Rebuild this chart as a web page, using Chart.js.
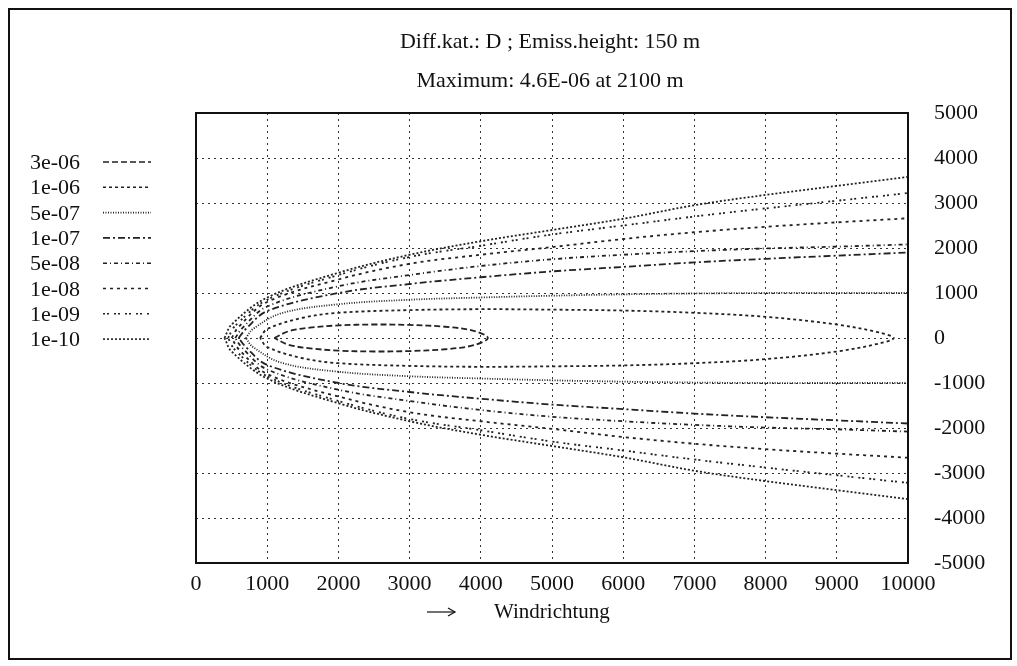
<!DOCTYPE html>
<html><head><meta charset="utf-8">
<script src="https://cdn.jsdelivr.net/npm/chart.js@4"></script>
<style>
body{margin:0;background:#fff}
#wrap{position:absolute;left:0;top:0;width:1017px;height:666px}
#frame{position:absolute;left:8px;top:8px;width:1000px;height:648px;border:2px solid #111}
</style></head>
<body>
<div id="wrap"><div id="frame"></div><canvas id="c" width="1017" height="666"></canvas></div>
<script>
// isoline labels (concentration levels)
const levels = ["3e-06","1e-06","5e-07","1e-07","5e-08","1e-08","1e-09","1e-10"]
const dashes = [[6,3],[3,3],[1,1.5],[7,3,2,3],[4,3,1,3],[3,4],[2,2,2,5],[2,2]]
// distance downwind (m) and plume half width (m) for each level
const xs = [
  [1100,1300,1600,2000,2500,3000,3500,3900,4100],
  [900,1000,1500,2000,3000,4000,5000,6000,7000,8000,9000,9600,9800],
  [700,800,1200,2000,3000,4000,5000,6000,7000,8000,9000,10000],
  [600,700,1000,2000,3000,4000,5000,6000,7000,8000,9000,10000],
  [550,650,1000,2000,3000,4000,5000,6000,7000,8000,9000,10000],
  [500,600,1000,2000,3000,4000,5000,6000,7000,8000,9000,10000],
  [450,550,1000,2000,3000,4000,5000,6000,7000,8000,9000,10000],
  [400,500,1000,2000,3000,4000,5000,6000,7000,8000,9000,10000]
]
const halfWidth = [
  [0,150,230,280,300,290,250,160,0],
  [0,200,450,560,620,640,630,610,560,470,300,120,0],
  [0,200,550,750,850,900,940,970,990,1000,1000,1000],
  [0,200,600,1000,1200,1350,1480,1580,1680,1760,1830,1900],
  [0,220,700,1150,1400,1600,1750,1850,1930,1990,2030,2080],
  [0,250,800,1300,1650,1850,2020,2200,2350,2470,2570,2660],
  [0,270,850,1400,1800,2050,2300,2500,2700,2880,3050,3220],
  [0,300,900,1450,1850,2150,2400,2650,2950,3180,3380,3580]
]
const xTicks = [0,1000,2000,3000,4000,5000,6000,7000,8000,9000,10000]
const yTicks = [-5000,-4000,-3000,-2000,-1000,0,1000,2000,3000,4000,5000]
const titleLines = ["Diff.kat.: D ; Emiss.height: 150 m","Maximum: 4.6E-06 at 2100 m"]

const font = "Liberation Serif, DejaVu Serif, serif"
const datasets = levels.map((lv, i) => {
  const up = xs[i].map((x, k) => ({x: x, y: halfWidth[i][k]}))
  const down = xs[i].map((x, k) => ({x: x, y: -halfWidth[i][k]})).reverse()
  const pts = xs[i][xs[i].length-1] < 10000 ? up.concat(down.slice(1)) : up.concat([{x: NaN, y: NaN}], down)
  return {label: lv, data: pts, showLine: true, pointRadius: 0, borderColor: "#222",
    borderWidth: 1.8, borderDash: dashes[i], tension: 0.35, spanGaps: false}
})

const deco = {
  id: "deco",
  afterDraw(chart) {
    const ctx = chart.ctx, a = chart.chartArea
    ctx.save()
    ctx.fillStyle = "#111"
    ctx.font = "22px " + font
    ctx.textAlign = "center"
    ctx.fillText(titleLines[0], 550, 48)
    ctx.fillText(titleLines[1], 550, 87)
    ctx.font = "22px " + font
    ctx.textAlign = "left"
    levels.forEach((lv, i) => {
      const y = 162 + i * 25.3
      ctx.fillText(lv, 30, y + 7)
      ctx.beginPath(); ctx.setLineDash(dashes[i]); ctx.lineWidth = 1.6; ctx.strokeStyle = "#222"
      ctx.moveTo(103, y); ctx.lineTo(151, y); ctx.stroke()
    })
    ctx.setLineDash([])
    ctx.lineWidth = 2; ctx.strokeStyle = "#111"
    ctx.strokeRect(a.left, a.top, a.right - a.left, a.bottom - a.top)
    ctx.beginPath(); ctx.lineWidth = 1.2
    ctx.moveTo(427, 612); ctx.lineTo(455, 612); ctx.stroke()
    ctx.beginPath(); ctx.moveTo(448, 608); ctx.lineTo(455, 612); ctx.lineTo(448, 616); ctx.stroke()
    ctx.font = "21px " + font
    ctx.fillText("Windrichtung", 494, 618)
    ctx.restore()
  }
}

new Chart(document.getElementById("c"), {
  type: "scatter",
  data: {datasets: datasets},
  options: {
    responsive: false, animation: false,
    layout: {padding: {left: 196, top: 113, right: 20, bottom: 70}},
    plugins: {legend: {display: false}, tooltip: {enabled: false}},
    scales: {
      x: {type: "linear", min: 0, max: 10000,
        afterBuildTicks: s => { s.ticks = xTicks.map(v => ({value: v})) },
        afterFit: s => { s.height = 33 },
        grid: {color: "#333", lineWidth: 1, drawTicks: false},
        border: {display: false, dash: [2,4]},
        ticks: {color: "#111", padding: 8, font: {family: font, size: 22}, maxRotation: 0,
          callback: v => String(v)}},
      y: {type: "linear", position: "right", min: -5000, max: 5000,
        afterBuildTicks: s => { s.ticks = yTicks.map(v => ({value: v})) },
        afterFit: s => { s.width = 89 },
        grid: {color: "#333", lineWidth: 1, drawTicks: false},
        border: {display: false, dash: [2,4]},
        ticks: {color: "#111", padding: 26, font: {family: font, size: 22}, callback: v => String(v)}}
    }
  },
  plugins: [deco]
})
</script>
</body></html>
